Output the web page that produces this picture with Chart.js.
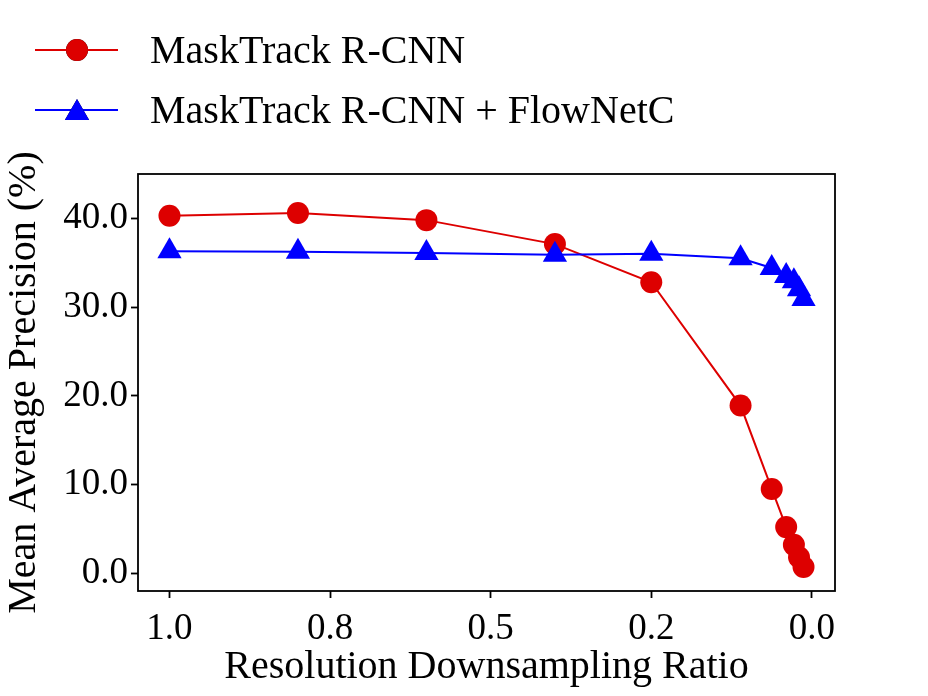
<!DOCTYPE html>
<html>
<head>
<meta charset="utf-8">
<script src="https://cdn.jsdelivr.net/npm/chart.js@4"></script>
<style>
    body { margin: 0; background: #fff; }
    #chart { display: block; }
</style>
</head>
<body>
<canvas id="chart" width="928" height="696"></canvas>
<script>
// downsampling ratios (x) and mAP values (%)
const ratios = [1.0, 0.8, 0.6, 0.4, 0.25, 0.111, 0.0625, 0.04, 0.028, 0.02, 0.013];
const maskTrack = [40.3, 40.6, 39.8, 37.1, 32.8, 18.9, 9.5, 5.2, 3.2, 1.8, 0.7];
const maskTrackFlow = [36.3, 36.25, 36.1, 35.9, 36.0, 35.5, 34.4, 33.5, 32.9, 32.0, 30.9];

const seriesNames = ['MaskTrack R-CNN', 'MaskTrack R-CNN + FlowNetC'];

const xTickValues = [1.0, 0.75, 0.5, 0.25, 0.0];
const xTickLabels = ['1.0', '0.8', '0.5', '0.2', '0.0'];
const yTickValues = [0, 10, 20, 30, 40];
const yTickLabels = ['0.0', '10.0', '20.0', '30.0', '40.0'];

const SERIF = "'Liberation Serif', 'DejaVu Serif', serif";
const RED = '#dd0000';
const BLUE = '#0000ff';

function toPoints(ys) {
    return ratios.map((x, i) => ({ x: x, y: ys[i] }));
}

// legend drawn above the axes, line + marker like matplotlib
const topLegend = {
    id: 'topLegend',
    afterDraw(chart) {
        const ctx = chart.ctx;
        ctx.save();
        chart.data.datasets.forEach((ds, i) => {
            const y = 50 + i * 60;
            ctx.strokeStyle = ds.borderColor;
            ctx.lineWidth = 2;
            ctx.beginPath();
            ctx.moveTo(35, y);
            ctx.lineTo(118, y);
            ctx.stroke();
            Chart.helpers.drawPoint(ctx, {
                pointStyle: ds.pointStyle,
                radius: ds.pointRadius,
                borderWidth: 0
            }, 77, y + (ds.pointStyle === 'triangle' ? 3 : 0));
            ctx.fillStyle = ds.borderColor;
            ctx.fill();
            ctx.fillStyle = '#000';
            ctx.font = '40px ' + SERIF;
            ctx.textBaseline = 'middle';
            ctx.textAlign = 'left';
            ctx.fillText(ds.label, 150, y + 2);
        });
        ctx.restore();
    }
};

// full box around the plot area
const frame = {
    id: 'frame',
    afterDraw(chart) {
        const a = chart.chartArea;
        const ctx = chart.ctx;
        ctx.save();
        ctx.strokeStyle = '#000';
        ctx.lineWidth = 1.8;
        ctx.strokeRect(a.left, a.top, a.right - a.left, a.bottom - a.top);
        ctx.restore();
    }
};

new Chart(document.getElementById('chart').getContext('2d'), {
    type: 'line',
    data: {
        datasets: [{
            label: seriesNames[0],
            data: toPoints(maskTrack),
            borderColor: RED,
            backgroundColor: RED,
            borderWidth: 2,
            pointStyle: 'circle',
            pointRadius: 11,
            pointBorderWidth: 0,
            order: 2
        }, {
            label: seriesNames[1],
            data: toPoints(maskTrackFlow),
            borderColor: BLUE,
            backgroundColor: BLUE,
            borderWidth: 2,
            pointStyle: 'triangle',
            pointRadius: 14,
            pointBorderWidth: 0,
            order: 1
        }]
    },
    options: {
        responsive: false,
        animation: false,
        layout: {
            padding: { top: 174, right: 93, left: 0, bottom: 0 }
        },
        plugins: {
            legend: { display: false },
            tooltip: { enabled: false }
        },
        scales: {
            x: {
                type: 'linear',
                reverse: true,
                min: -0.036,
                max: 1.049,
                afterBuildTicks: (scale) => {
                    scale.ticks = xTickValues.map(v => ({ value: v }));
                },
                afterFit: (scale) => { scale.height = 105; },
                grid: {
                    display: true,
                    drawOnChartArea: false,
                    drawTicks: true,
                    tickLength: 7,
                    tickWidth: 1.8,
                    tickColor: '#000'
                },
                border: { display: false },
                ticks: {
                    color: '#000',
                    padding: 9,
                    maxRotation: 0,
                    autoSkip: false,
                    font: { family: SERIF, size: 37 },
                    callback: (value, index) => xTickLabels[index]
                },
                title: {
                    display: true,
                    text: 'Resolution Downsampling Ratio',
                    color: '#000',
                    font: { family: SERIF, size: 40, lineHeight: 1.2 },
                    padding: { top: 0, bottom: 5 }
                }
            },
            y: {
                min: -2,
                max: 45,
                afterBuildTicks: (scale) => {
                    scale.ticks = yTickValues.map(v => ({ value: v }));
                },
                afterFit: (scale) => { scale.width = 138; },
                grid: {
                    display: true,
                    drawOnChartArea: false,
                    drawTicks: true,
                    tickLength: 7,
                    tickWidth: 1.8,
                    tickColor: '#000'
                },
                border: { display: false },
                ticks: {
                    color: '#000',
                    padding: 3,
                    autoSkip: false,
                    font: { family: SERIF, size: 37 },
                    callback: (value, index) => yTickLabels[index]
                },
                title: {
                    display: true,
                    text: 'Mean Average Precision (%)',
                    color: '#000',
                    font: { family: SERIF, size: 40, lineHeight: 1.2 },
                    padding: { top: 0, bottom: 0 }
                }
            }
        }
    },
    plugins: [topLegend, frame]
});
</script>
</body>
</html>
